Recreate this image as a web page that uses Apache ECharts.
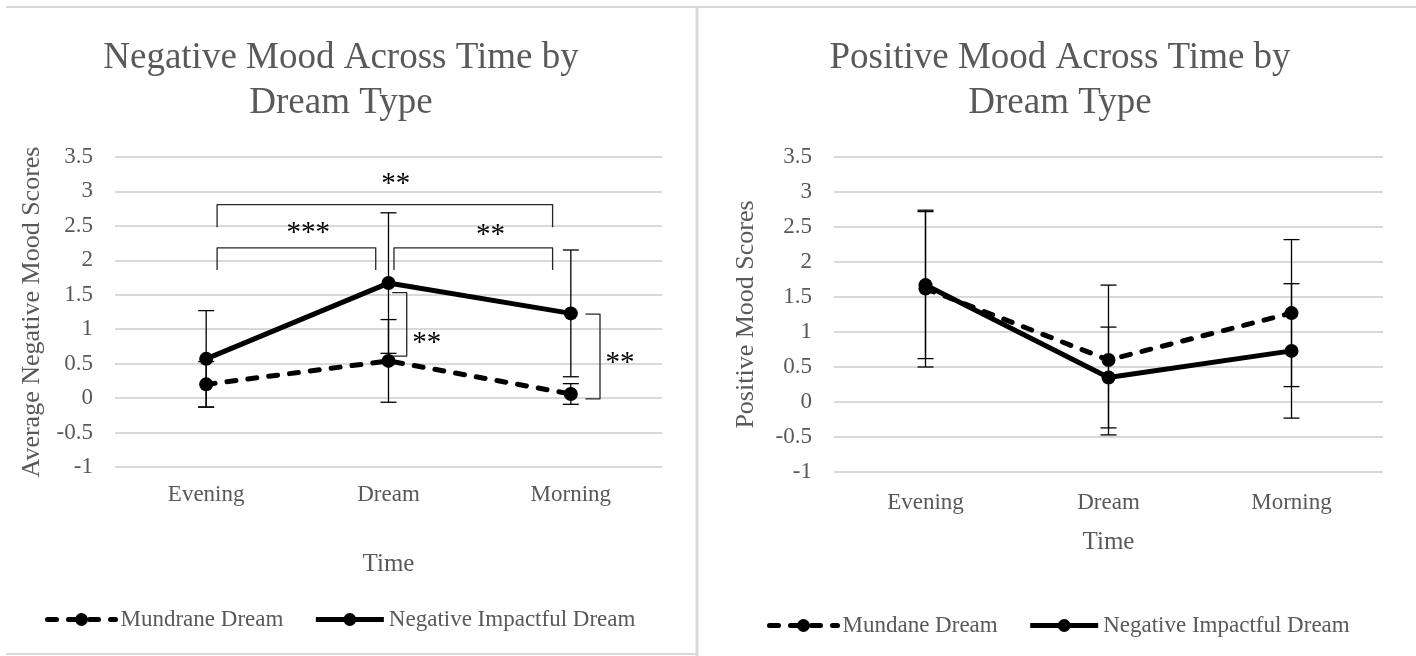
<!DOCTYPE html>
<html>
<head>
<meta charset="utf-8">
<script src="https://cdn.jsdelivr.net/npm/echarts@6/dist/echarts.min.js"></script>
<style>
  html, body { margin: 0; padding: 0; background: #fff; }
  #main { width: 1416px; height: 656px; }
</style>
</head>
<body>
<div id="main"></div>
<script>
// 时间点与刻度
const timePoints = ['Evening', 'Dream', 'Morning']
const valueTicks = [-1, -0.5, 0, 0.5, 1, 1.5, 2, 2.5, 3, 3.5]

// 负面情绪
const negMundane = [0.20, 0.54, 0.06]
const negMundaneErr = [0.33, 0.60, 0.15]
const negImpact = [0.57, 1.67, 1.23]
const negImpactErr = [0.70, 1.02, 0.92]

// 正面情绪
const posMundane = [1.62, 0.60, 1.27]
const posMundaneErr = [1.12, 1.07, 1.05]
const posImpact = [1.67, 0.35, 0.73]
const posImpactErr = [1.05, 0.72, 0.96]

// 显著性标注 (x 用类目单位, y 用数值)
const spanBrackets = [[0.06, 1.90, 2.81, 2.48], [0.06, 0.93, 2.18, 1.86], [1.03, 1.90, 2.18, 1.86]]
const sideBrackets = [[1.02, 1.10, 1.53, 0.61], [2.08, 2.16, 1.22, -0.01]]
const sigLabels = [[1.04, 3.18, '**'], [0.56, 2.47, '***'], [1.56, 2.44, '**'], [1.21, 0.87, '**'], [2.27, 0.58, '**']]

const font = 'Liberation Serif'
const grey = '#595959'

const chart = echarts.init(document.getElementById('main'))

function lineSeries(name, data, idx, dashed) {
  return {
    name: name,
    type: 'line',
    xAxisIndex: idx,
    yAxisIndex: idx,
    data: data,
    symbol: 'circle',
    symbolSize: 14,
    z: 4,
    itemStyle: { color: '#000' },
    lineStyle: dashed
      ? { color: '#000', width: 5, type: [9, 12], cap: 'round' }
      : { color: '#000', width: 5 }
  }
}

// 误差线
function errSeries(vals, errs, idx) {
  return {
    type: 'custom',
    xAxisIndex: idx,
    yAxisIndex: idx,
    silent: true,
    z: 5,
    data: vals.map((v, i) => [i, v - errs[i], v + errs[i]]),
    encode: { x: 0, y: [1, 2] },
    renderItem: function (params, api) {
      const lo = api.coord([api.value(0), api.value(1)])
      const hi = api.coord([api.value(0), api.value(2)])
      const w = 8
      const st = () => ({ stroke: '#000', lineWidth: 1.3 })
      return {
        type: 'group',
        children: [
          { type: 'line', shape: { x1: lo[0], y1: lo[1], x2: hi[0], y2: hi[1] }, style: st() },
          { type: 'line', shape: { x1: lo[0] - w, y1: lo[1], x2: lo[0] + w, y2: lo[1] }, style: st() },
          { type: 'line', shape: { x1: hi[0] - w, y1: hi[1], x2: hi[0] + w, y2: hi[1] }, style: st() }
        ]
      }
    }
  }
}

function xAxisOf(idx, gap, margin) {
  return {
    gridIndex: idx,
    type: 'category',
    data: timePoints,
    name: 'Time',
    nameLocation: 'middle',
    nameGap: gap,
    nameTextStyle: { fontFamily: font, fontSize: 25, color: grey },
    axisLine: { show: false },
    axisTick: { show: false },
    axisLabel: { fontFamily: font, fontSize: 23, color: grey, margin: margin }
  }
}

function yAxisOf(idx, name, gap) {
  return {
    gridIndex: idx,
    type: 'value',
    min: valueTicks[0],
    max: valueTicks[valueTicks.length - 1],
    interval: valueTicks[1] - valueTicks[0],
    name: name,
    nameLocation: 'middle',
    nameGap: gap,
    nameTextStyle: { fontFamily: font, fontSize: 26, color: grey },
    axisLine: { show: false },
    axisTick: { show: false },
    axisLabel: { fontFamily: font, fontSize: 23, color: grey, margin: 22 },
    splitLine: { lineStyle: { color: '#d9d9d9', width: 2 } }
  }
}

const titleStyle = { fontFamily: font, fontSize: 37, fontWeight: 'normal', color: grey, lineHeight: 45 }
const legendBase = {
  itemWidth: 68,
  itemHeight: 16,
  itemGap: 30,
  lineStyle: { width: 5 },
  textStyle: { fontFamily: font, fontSize: 23, color: grey }
}

const option = {
  backgroundColor: '#fff',
  animation: false,
  title: [
    { text: 'Negative Mood Across Time by\nDream Type', left: 336, top: 31, textAlign: 'center', textStyle: titleStyle },
    { text: 'Positive Mood Across Time by\nDream Type', left: 1055, top: 31, textAlign: 'center', textStyle: titleStyle }
  ],
  legend: [
    Object.assign({ data: ['Mundrane Dream', 'Negative Impactful Dream'], left: 40, top: 603 }, legendBase),
    Object.assign({ data: ['Mundane Dream', 'Negative Impactful Dream'], left: 762, top: 609 }, legendBase)
  ],
  grid: [
    { left: 115, right: 754, top: 157, bottom: 189 },
    { left: 834, right: 33, top: 157, bottom: 184 }
  ],
  xAxis: [xAxisOf(0, 85, 16), xAxisOf(1, 58, 19)],
  yAxis: [yAxisOf(0, 'Average Negative Mood Scores', 70), yAxisOf(1, 'Positive Mood Scores', 75)],
  series: [
    lineSeries('Mundrane Dream', negMundane, 0, true),
    lineSeries('Negative Impactful Dream', negImpact, 0, false),
    errSeries(negMundane, negMundaneErr, 0),
    errSeries(negImpact, negImpactErr, 0),
    lineSeries('Mundane Dream', posMundane, 1, true),
    lineSeries('Negative Impactful Dream', posImpact, 1, false),
    errSeries(posMundane, posMundaneErr, 1),
    errSeries(posImpact, posImpactErr, 1)
  ]
}

chart.setOption(option)

// 类目坐标转像素 (支持小数位置)
function toPx(cat, val) {
  const i = Math.floor(cat)
  const p = chart.convertToPixel({ gridIndex: 0 }, [i, val])
  const bw = chart.convertToPixel({ gridIndex: 0 }, [1, 0])[0] - chart.convertToPixel({ gridIndex: 0 }, [0, 0])[0]
  return [p[0] + (cat - i) * bw, p[1]]
}

const marks = []
const lineSt = { stroke: '#262626', lineWidth: 1.3, fill: null, lineJoin: 'round' }

spanBrackets.forEach(b => {
  const a = toPx(b[0], b[3]), c = toPx(b[0], b[2]), d = toPx(b[1], b[2]), e = toPx(b[1], b[3])
  marks.push({ type: 'polyline', shape: { points: [a, c, d, e] }, style: Object.assign({}, lineSt), z: 10 })
})
sideBrackets.forEach(b => {
  const a = toPx(b[0], b[2]), c = toPx(b[1], b[2]), d = toPx(b[1], b[3]), e = toPx(b[0], b[3])
  marks.push({ type: 'polyline', shape: { points: [a, c, d, e] }, style: Object.assign({}, lineSt), z: 10 })
})
sigLabels.forEach(l => {
  const p = toPx(l[0], l[1])
  marks.push({
    type: 'text', x: p[0], y: p[1] + 5, z: 10,
    style: { text: l[2], fontFamily: font, fontSize: 29, fill: '#000', align: 'center', verticalAlign: 'middle' }
  })
})

// 面板边框
const frame = { stroke: '#d9d9d9', lineWidth: 2 }
marks.push({ type: 'line', shape: { x1: 6, y1: 7, x2: 1416, y2: 7 }, style: Object.assign({}, frame), z: 1 })
marks.push({ type: 'line', shape: { x1: 697, y1: 7, x2: 697, y2: 656 }, style: Object.assign({}, frame, { lineWidth: 3 }), z: 1 })
marks.push({ type: 'line', shape: { x1: 6, y1: 654, x2: 697, y2: 654 }, style: Object.assign({}, frame), z: 1 })

chart.setOption({ graphic: { elements: marks } })
</script>
</body>
</html>
